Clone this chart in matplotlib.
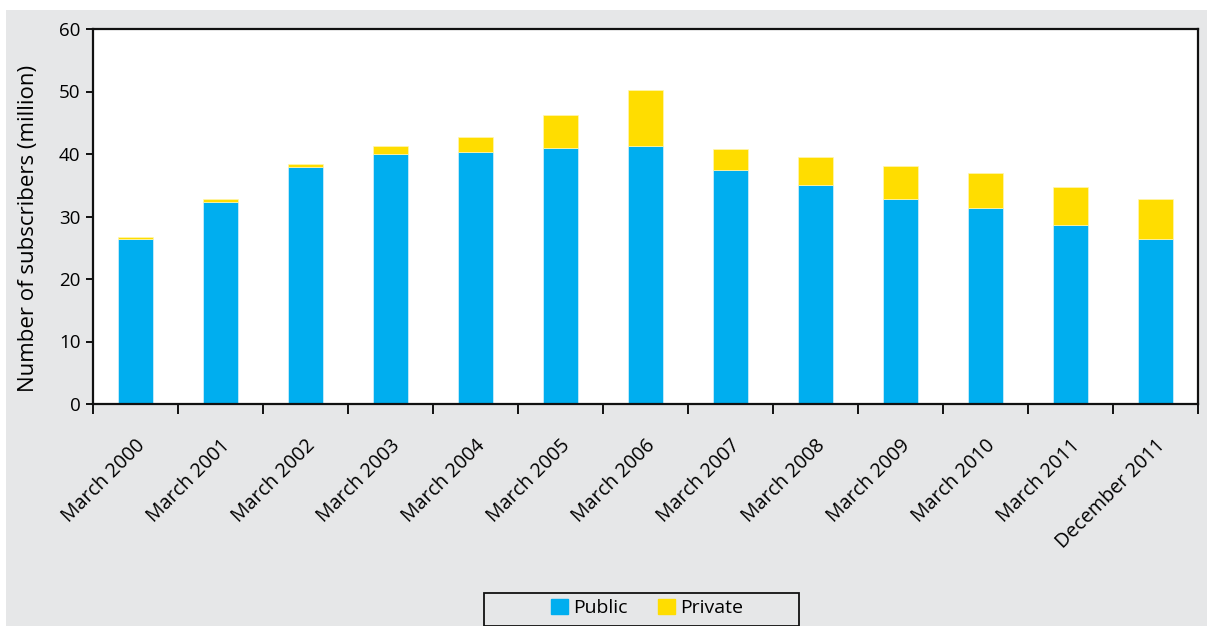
import numpy as np
import matplotlib.pyplot as plt
from matplotlib.patches import Patch, Rectangle

# Subscribers by sector, in millions
periods = ["March 2000", "March 2001", "March 2002", "March 2003", "March 2004",
           "March 2005", "March 2006", "March 2007", "March 2008", "March 2009",
           "March 2010", "March 2011", "December 2011"]
public = [26.4, 32.3, 37.9, 40.0, 40.3, 41.0, 41.3, 37.5, 35.1, 32.8, 31.3, 28.6, 26.4]
private = [0.3, 0.5, 0.55, 1.3, 2.5, 5.2, 8.9, 3.3, 4.4, 5.3, 5.7, 6.2, 6.4]

BLUE = "#00aeef"
YELLOW = "#ffdd00"
GREY = "#e6e7e8"

plt.rcParams['font.family'] = ['Open Sans', 'DejaVu Sans']
FS = 13.5

fig = plt.figure(figsize=(12.07, 6.26), dpi=100, facecolor="white")
# grey panel behind the chart, leaving a thin white margin top and left
fig.patches.append(Rectangle((6 / 1207, 0), 1 - 6 / 1207, 1 - 10 / 626,
                             transform=fig.transFigure, facecolor=GREY,
                             edgecolor="none", zorder=-10))

ax = fig.add_axes([93 / 1207, 1 - 404 / 626, 1105 / 1207, 375 / 626])
ax.set_facecolor("white")

x = np.arange(len(periods))
ax.bar(x, public, width=0.41, color=BLUE, edgecolor="#d8f1fb", linewidth=0.5)
ax.bar(x, private, width=0.41, bottom=public, color=YELLOW,
       edgecolor="#fff6b0", linewidth=0.5)

ax.set_xlim(-0.5, len(periods) - 0.5)
ax.set_ylim(0, 60)
ax.set_yticks(range(0, 61, 10))
ax.tick_params(axis="y", labelsize=FS, length=5, width=1.3, pad=4)

# labels at bar centres, tick marks between categories
ax.set_xticks(x)
ax.set_xticklabels(periods, rotation=45, ha="right", va="top",
                   rotation_mode="anchor", fontsize=14.2)
ax.tick_params(axis="x", which="major", length=0, pad=23)
ax.set_xticks(np.arange(-0.5, len(periods), 1.0), minor=True)
ax.tick_params(axis="x", which="minor", length=7, width=1.3)

for s in ax.spines.values():
    s.set_linewidth(1.6)
    s.set_color("#111111")

ax.set_ylabel("Number of subscribers (million)", fontsize=16)
ax.yaxis.set_label_coords(-0.049, 0.469)

# legend with its own wide frame
fig.patches.append(Rectangle((484 / 1207, 0.5 / 626), 315 / 1207, 33 / 626,
                             transform=fig.transFigure, facecolor=GREY,
                             edgecolor="#111111", linewidth=1.3, zorder=5))
handles = [Patch(color=BLUE, label="Public"), Patch(color=YELLOW, label="Private")]
fig.legend(handles=handles, loc="center", bbox_to_anchor=(647 / 1207, 1 - 608 / 626),
           ncol=2, frameon=False, fontsize=14, handlelength=0.85, handleheight=0.85,
           handletextpad=0.25, columnspacing=1.6)

fig.savefig("out.png", dpi=100, facecolor=fig.get_facecolor())
